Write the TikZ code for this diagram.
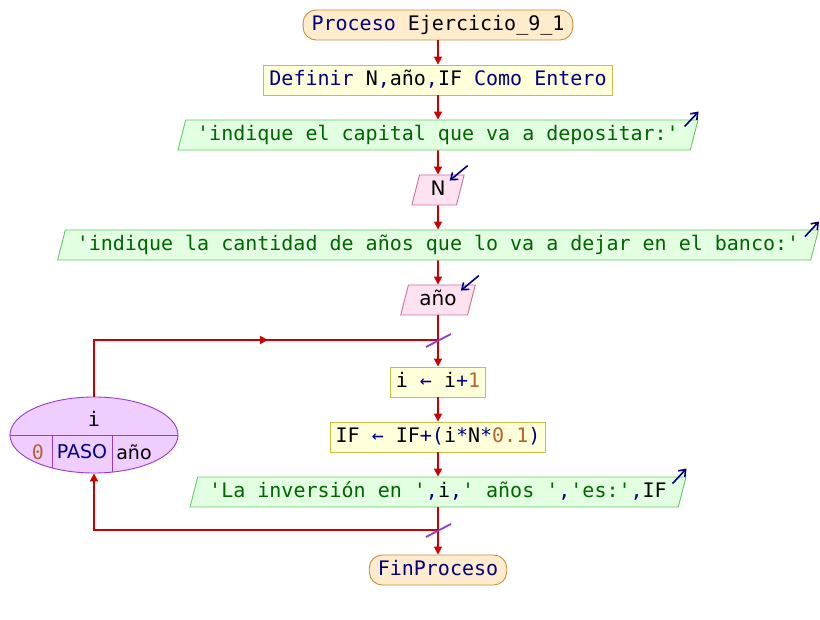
\documentclass[tikz,border=0pt]{standalone}
\usepackage{fontspec}
\setmonofont{DejaVu Sans Mono}
\setsansfont{DejaVu Sans}
\usetikzlibrary{calc,arrows.meta,shapes.geometric}
\definecolor{flowred}{RGB}{204,0,0}
\definecolor{kwblue}{RGB}{0,0,128}
\definecolor{numbrown}{RGB}{180,100,50}
\definecolor{strgreen}{RGB}{0,100,0}
\definecolor{termfill}{RGB}{255,236,204}
\definecolor{termline}{RGB}{200,140,60}
\definecolor{procfill}{RGB}{255,255,218}
\definecolor{procline}{RGB}{200,190,70}
\definecolor{outfill}{RGB}{226,255,226}
\definecolor{outline}{RGB}{100,200,100}
\definecolor{infill}{RGB}{255,226,240}
\definecolor{inline}{RGB}{200,110,160}
\definecolor{parafill}{RGB}{240,205,255}
\definecolor{paraline}{RGB}{150,60,200}
\definecolor{jointpurple}{RGB}{140,60,210}
\newcommand{\kwd}[1]{\textcolor{kwblue}{#1}}
\newcommand{\numc}[1]{\textcolor{numbrown}{#1}}
\tikzset{
  base/.style={draw, line width=0.9pt, minimum height=30pt, inner ysep=0pt,
    font=\ttfamily\fontsize{20}{24}\selectfont, text height=15pt, text depth=4pt},
  term/.style={base, rectangle, rounded corners=13pt, inner xsep=8.5pt, fill=termfill, draw=termline},
  proc/.style={base, rectangle, inner xsep=5.5pt, fill=procfill, draw=procline},
  outp/.style={base, trapezium, trapezium left angle=68, trapezium right angle=112,
    trapezium stretches body, inner xsep=11.5pt, fill=outfill, draw=outline, text=strgreen},
  inp/.style={base, trapezium, trapezium left angle=68, trapezium right angle=112,
    trapezium stretches body, inner xsep=11pt, minimum width=52pt, fill=infill, draw=inline,
    font=\sffamily\fontsize{20}{24}\selectfont},
  flow/.style={draw=flowred, line width=1.7pt, -{Triangle[length=8pt,width=8pt]}},
  flowline/.style={draw=flowred, line width=1.7pt},
  iomark/.style={draw=kwblue, line width=1.6pt, -{Straight Barb[length=6pt,width=9pt]}},
  joint/.style={draw=jointpurple, line width=1.8pt},
}
\begin{document}
\begin{tikzpicture}[x=1pt,y=-1pt]
	\useasboundingbox (0,0) rectangle (820,620);
	
	%%% main column
	\node[term] (start) at (438,25) {\kwd{Proceso} Ejercicio\_9\_1};
	\node[proc] (def) at (438,80) {\kwd{Definir} N\kwd{,}año\kwd{,}IF \kwd{Como Entero}};
	\node[outp] (out1) at (438,135) {'indique el capital que va a depositar:'};
	\node[inp] (inN) at (438,190) {N};
	\node[outp] (out2) at (438,245) {'indique la cantidad de años que lo va a dejar en el banco:'};
	\node[inp] (inA) at (438,300) {año};
	\node[proc] (inc) at (438,382) {i \kwd{←} i\kwd{+}\numc{1}};
	\node[proc] (ifc) at (438,437) {IF \kwd{←} IF\kwd{+(}i\kwd{*}N\kwd{*}\numc{0.1}\kwd{)}};
	\node[outp] (out3) at (438,492) {'La inversión en '\kwd{,}\textcolor{black}{i}\kwd{,}' años '\kwd{,}'es:'\kwd{,}\textcolor{black}{IF}};
	\node[term] (fin) at (438,570) {\kwd{FinProceso}};
	
	\coordinate (j1) at (438,340);
	\coordinate (j2) at (438,530);
	
	%%% loop header
	\node[ellipse, draw=paraline, fill=parafill, line width=0.9pt, minimum width=168pt,
	  minimum height=76pt, inner sep=0pt] (para) at (94,435) {};
	\begin{scope}
		\clip (94,435) ellipse (84pt and 38pt);
		\draw[paraline, line width=0.9pt] (para.west) -- (para.east);
		\draw[paraline, line width=0.9pt] (52,435) -- (52,480);
		\draw[paraline, line width=0.9pt] (112,435) -- (112,480);
	\end{scope}
	\node[font=\ttfamily\fontsize{20}{24}\selectfont] (pvar) at (94,419) {i};
	\node[font=\ttfamily\fontsize{20}{24}\selectfont, text=numbrown] (pini) at (38,452) {0};
	\node[font=\sffamily\fontsize{19}{23}\selectfont, text=kwblue] (pstep) at (82,452) {PASO};
	\node[font=\sffamily\fontsize{19}{23}\selectfont] (pend) at (134,452) {año};
	
	%%% connectors
	\draw[flow] (start) -- (def);
	\draw[flow] (def) -- (out1);
	\draw[flow] (out1) -- (inN);
	\draw[flow] (inN) -- (out2);
	\draw[flow] (out2) -- (inA);
	\draw[flowline] (inA) -- (j1);
	\draw[flow] (j1) -- (inc);
	\draw[flow] (inc) -- (ifc);
	\draw[flow] (ifc) -- (out3);
	\draw[flowline] (out3) -- (j2);
	\draw[flow] (j2) -- (fin);
	
	\coordinate (mid) at (268,340);
	\draw[flowline] (para.north) |- (j1);
	\draw[flow] (para.north |- j1) -- (mid);
	\draw[flow] (j2) -| (para.south);
	
	\draw[joint] ($(j1)+(-12,7)$) -- ($(j1)+(13,-6)$);
	\draw[joint] ($(j2)+(-12,7)$) -- ($(j2)+(13,-6)$);
	
	%%% io marks
	\foreach \o in {out1,out2,out3}
		\draw[iomark] ($(\o.top right corner)+(-14,7)$) -- ($(\o.top right corner)+(0,-8)$);
	\foreach \i in {inN,inA}
		\draw[iomark] ($(\i.top right corner)+(3,-9)$) -- ($(\i.top right corner)+(-15,6)$);
	
\end{tikzpicture}
\end{document}
